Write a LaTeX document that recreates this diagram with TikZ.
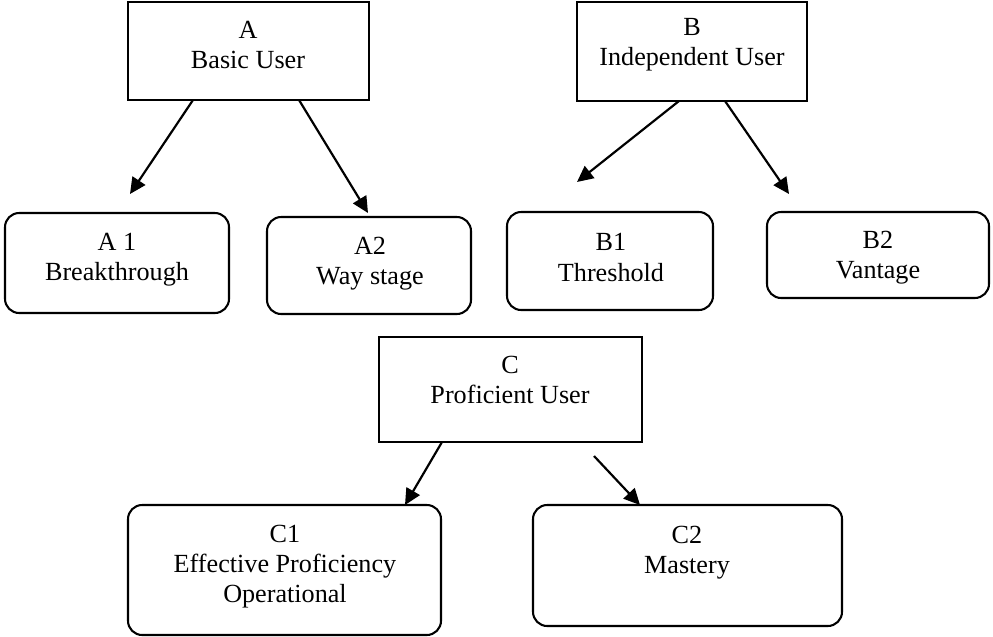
\documentclass[tikz,border=0pt]{standalone}
\usepackage{fontspec}
\setmainfont{Liberation Serif}
\usetikzlibrary{arrows.meta}
\newcommand\pxu{0.4587pt}
\tikzset{
  sq/.style={draw, line width=0.95pt, inner sep=0pt, outer sep=0pt},
  rbox/.style={draw, line width=0.95pt, rounded corners=6.5pt, inner sep=0pt, outer sep=0pt},
  lbl/.style={align=center, inner sep=0pt, font=\fontsize{12}{13.8}\selectfont},
  arr/.style={line width=1pt, -{Triangle[length=7.4pt,width=7pt]}}
}
\begin{document}
\begin{tikzpicture}[x={(\pxu,0)}, y={(0,-\pxu)}]
\useasboundingbox (0,0) rectangle (993,636);
% boxes
\node[sq, minimum width={241*\pxu}, minimum height={98*\pxu}] (A) at (248.5,51) {};
\node[sq, minimum width={230*\pxu}, minimum height={99*\pxu}] (B) at (692,51.5) {};
\node[sq, minimum width={263*\pxu}, minimum height={105*\pxu}] (C) at (510.5,389.5) {};
\node[rbox, minimum width={224*\pxu}, minimum height={100*\pxu}] (A1) at (117,263) {};
\node[rbox, minimum width={204*\pxu}, minimum height={97*\pxu}] (A2) at (369,265.5) {};
\node[rbox, minimum width={206*\pxu}, minimum height={98*\pxu}] (B1) at (610,261) {};
\node[rbox, minimum width={222*\pxu}, minimum height={86*\pxu}] (B2) at (878,255) {};
\node[rbox, minimum width={313*\pxu}, minimum height={130*\pxu}] (C1) at (284.5,570) {};
\node[rbox, minimum width={309*\pxu}, minimum height={121*\pxu}] (C2) at (687.5,565.5) {};
% texts
\node[lbl] (tA) at (248,45) {A\\Basic User};
\node[lbl] (tB) at (692,45) {B\\Independent User};
\node[lbl] (tC) at (510,380) {C\\Proficient User};
\node[lbl] (tA1) at (117,260) {A 1\\Breakthrough};
\node[lbl] (tA2) at (370,263.5) {A2\\Way stage};
\node[lbl] (tB1) at (611,257.5) {B1\\Threshold};
\node[lbl] (tB2) at (878,257.5) {B2\\Vantage};
\node[lbl] (tC1) at (285,567) {C1\\Effective Proficiency\\Operational};
\node[lbl] (tC2) at (687,552.5) {C2\\Mastery};
% arrow ends
\coordinate (aLs) at (193,100);
\coordinate (aLe) at (130,194);
\coordinate (aRs) at (299,100);
\coordinate (aRe) at (368,213);
\coordinate (bLs) at (679,101);
\coordinate (bLe) at (577,182);
\coordinate (bRs) at (725,101);
\coordinate (bRe) at (789,194);
\coordinate (cLs) at (442,442);
\coordinate (cLe) at (405,505);
\coordinate (cRs) at (594,456);
\coordinate (cRe) at (640,505);
\draw[arr] (aLs) -- (aLe);
\draw[arr] (aRs) -- (aRe);
\draw[arr] (bLs) -- (bLe);
\draw[arr] (bRs) -- (bRe);
\draw[arr] (cLs) -- (cLe);
\draw[arr] (cRs) -- (cRe);
\end{tikzpicture}
\end{document}
